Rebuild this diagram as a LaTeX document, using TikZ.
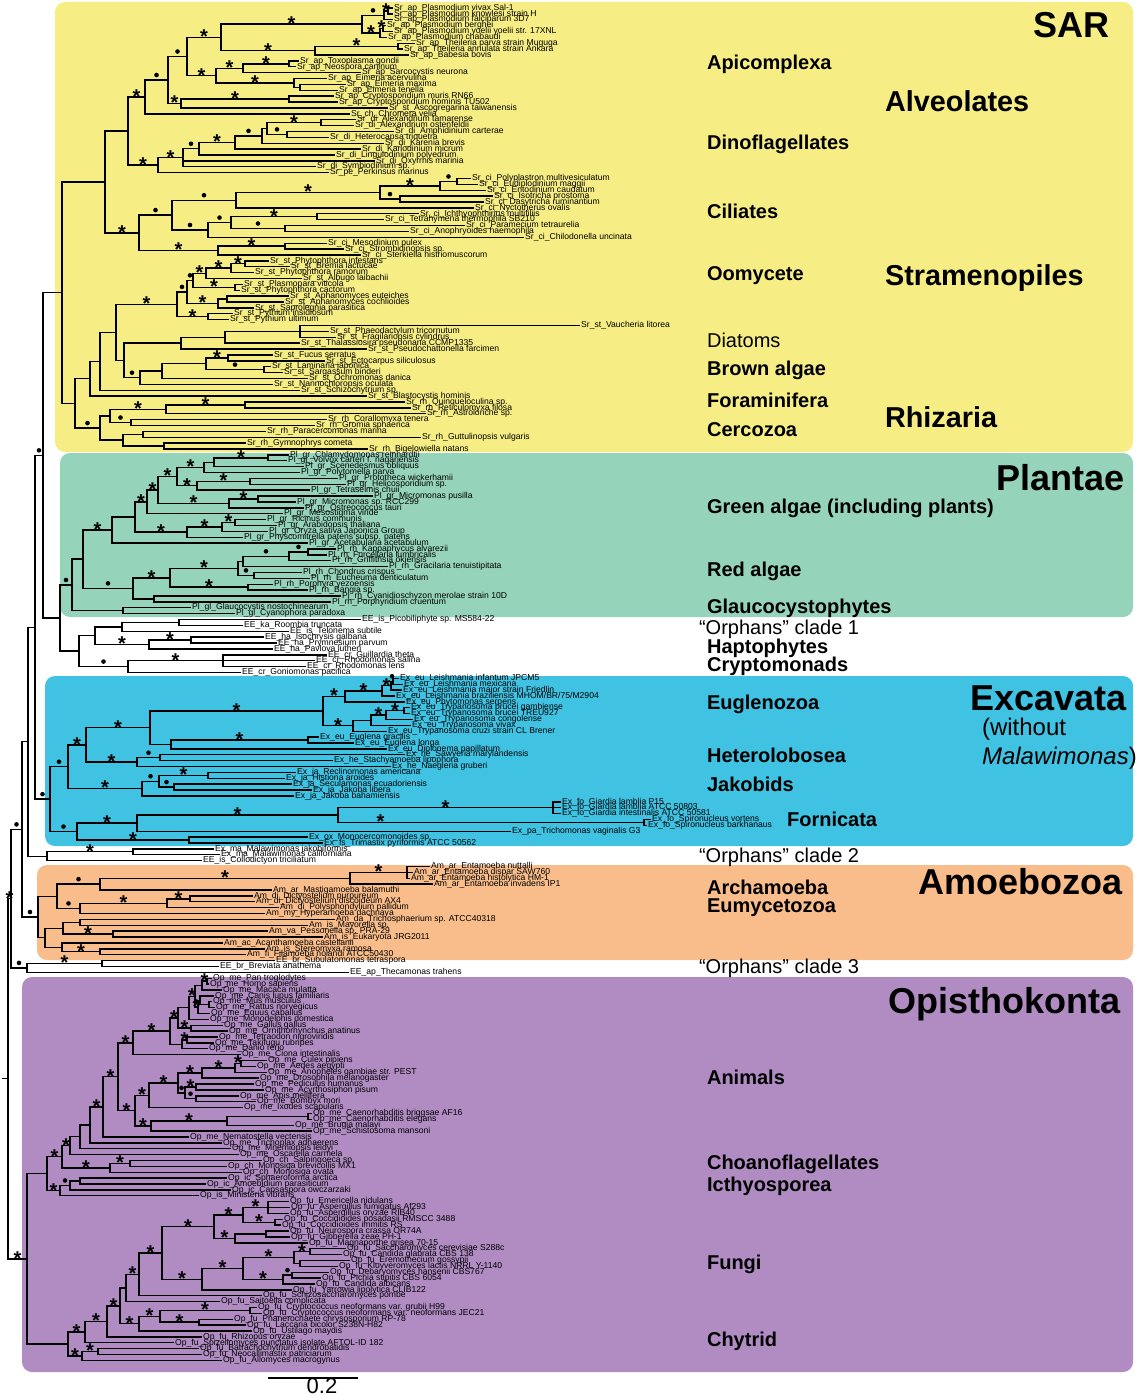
\documentclass[tikz,border=0pt]{standalone}
\usepackage{fontspec}
\setmainfont{Liberation Sans}
\usetikzlibrary{calc}
\definecolor{sarc}{HTML}{F6EE84}
\definecolor{plc}{HTML}{95D4BA}
\definecolor{exc}{HTML}{40C2E2}
\definecolor{amc}{HTML}{F9BD8B}
\definecolor{opc}{HTML}{B08CC3}
\newcommand\lf[3]{\node[labf] (L#2) at (#1,{2.12+5.88*#2}) {#3};}
\newcommand\nd[4]{\coordinate (tq) at ($(#3)!.5!(#4)$);\coordinate (#1) at (#2,0 |- tq);\draw[brl] (#1) |- (#3);\draw[brl] (#1) |- (#4);}
\newcommand\ndt[5]{\coordinate (tq) at ($(#3)!.5!(#5)$);\coordinate (#1) at (#2,0 |- tq);\draw[brl] (#1) |- (#3);\draw[brl] (#1) |- (#4);\draw[brl] (#1) |- (#5);}
\newcommand\sa[2]{\path (#1) |- node[pos=.75,stmk]{*} (#2);}
\newcommand\sd[2]{\path (#1) |- node[pos=.75,dtmk]{} (#2);}
\begin{document}
\begin{tikzpicture}[x=0.5pt,y=-0.5pt,
 brl/.style={line width=0.7pt},
 labf/.style={anchor=west,inner sep=0.4pt,font=\fontsize{4.3}{4.3}\selectfont},
 stmk/.style={anchor=south,inner sep=0pt,yshift=-3.4pt,font=\fontsize{10}{10}\selectfont\bfseries},
 dtmk/.style={circle,fill=black,inner sep=0pt,minimum size=2.3pt,yshift=2.5pt},
 clB/.style={anchor=west,font=\fontsize{10}{12}\selectfont\bfseries},
 clN/.style={anchor=west,font=\fontsize{10}{12}\selectfont},
 clW/.style={anchor=west,font=\fontsize{12}{14}\selectfont},
 clM/.style={anchor=west,font=\fontsize{14.4}{16}\selectfont\bfseries},
 clBig/.style={anchor=east,font=\fontsize{18}{20}\selectfont\bfseries}]
\useasboundingbox (0,0) rectangle (1138,1396);
\fill[white] (0,0) rectangle (1138,1396);
% clade boxes
\fill[sarc,rounded corners=5pt] (55,2) rectangle (1133,452);
\fill[plc,rounded corners=5pt] (60,453) rectangle (1133,617);
\fill[exc,rounded corners=5pt] (45,676) rectangle (1133,846);
\fill[amc,rounded corners=5pt] (37,865) rectangle (1133,960);
\fill[opc,rounded corners=5pt] (22,977) rectangle (1133,1372);
% leaves
\lf{393}{1}{Sr\_ap\_Plasmodium vivax Sal-1}
\lf{393}{2}{Sr\_ap\_Plasmodium knowlesi strain H}
\lf{393}{3}{Sr\_ap\_Plasmodium falciparum 3D7}
\lf{386}{4}{Sr\_ap\_Plasmodium berghei}
\lf{393}{5}{Sr\_ap\_Plasmodium yoelii yoelii str. 17XNL}
\lf{387}{6}{Sr\_ap\_Plasmodium chabaudi}
\lf{415}{7}{Sr\_ap\_Theileria parva strain Muguga}
\lf{403}{8}{Sr\_ap\_Theileria annulata strain Ankara}
\lf{409}{9}{Sr\_ap\_Babesia bovis}
\lf{299}{10}{Sr\_ap\_Toxoplasma gondii}
\lf{296}{11}{Sr\_ap\_Neospora caninum}
\lf{361}{12}{Sr\_ap\_Sarcocystis neurona}
\lf{327}{13}{Sr\_ap\_Eimeria acervulina}
\lf{346}{14}{Sr\_ap\_Eimeria maxima}
\lf{338}{15}{Sr\_ap\_Eimeria tenella}
\lf{334}{16}{Sr\_ap\_Cryptosporidium muris RN66}
\lf{338}{17}{Sr\_ap\_Cryptosporidium hominis TU502}
\lf{388}{18}{Sr\_st\_Ascogregarina taiwanensis}
\lf{350}{19}{Sr\_ch\_Chromera velia}
\lf{356}{20}{Sr\_di\_Alexandrium tamarense}
\lf{354}{21}{Sr\_di\_Alexandrium ostenfeldii}
\lf{394}{22}{Sr\_di\_Amphidinium carterae}
\lf{329}{23}{Sr\_di\_Heterocapsa triquetra}
\lf{384}{24}{Sr\_di\_Karenia brevis}
\lf{361}{25}{Sr\_di\_Karlodinium micrum}
\lf{335}{26}{Sr\_di\_Lingulodinium polyedrum}
\lf{375}{27}{Sr\_di\_Oxyrrhis marinia}
\lf{316}{28}{Sr\_di\_Symbiodinium sp.}
\lf{329}{29}{Sr\_pe\_Perkinsus marinus}
\lf{471}{30}{Sr\_ci\_Polyplastron multivesiculatum}
\lf{478}{31}{Sr\_ci\_Eudiplodinium maggii}
\lf{486}{32}{Sr\_ci\_Entodinium caudatum}
\lf{493}{33}{Sr\_ci\_Isotricha prostoma}
\lf{484}{34}{Sr\_ci\_Dasytricha ruminantium}
\lf{474}{35}{Sr\_ci\_Nyctotherus ovalis}
\lf{419}{36}{Sr\_ci\_Ichthyophthirius multifiliis}
\lf{384}{37}{Sr\_ci\_Tetrahymena thermophila SB210}
\lf{465}{38}{Sr\_ci\_Paramecium tetraurelia}
\lf{409}{39}{Sr\_ci\_Anophryoides haemophila}
\lf{524}{40}{Sr\_ci\_Chilodonella uncinata}
\lf{327}{41}{Sr\_ci\_Mesodinium pulex}
\lf{344}{42}{Sr\_ci\_Strombidinopsis sp.}
\lf{361}{43}{Sr\_ci\_Sterkiella histriomuscorum}
\lf{269}{44}{Sr\_st\_Phytophthora infestans}
\lf{290}{45}{Sr\_st\_Bremia lactucae}
\lf{254}{46}{Sr\_st\_Phytophthora ramorum}
\lf{302}{47}{Sr\_st\_Albugo laibachii}
\lf{243}{48}{Sr\_st\_Plasmopara viticola}
\lf{240}{49}{Sr\_st\_Phytophthora cactorum}
\lf{289}{50}{Sr\_st\_Aphanomyces euteiches}
\lf{284}{51}{Sr\_st\_Aphanomyces cochlioides}
\lf{254}{52}{Sr\_st\_Saprolegnia parasitica}
\lf{233}{53}{Sr\_st\_Pythium insidiosum}
\lf{229}{54}{Sr\_st\_Pythium ultimum}
\lf{580}{55}{Sr\_st\_Vaucheria litorea}
\lf{329}{56}{Sr\_st\_Phaeodactylum tricornutum}
\lf{336}{57}{Sr\_st\_Fragilariopsis cylindrus}
\lf{300}{58}{Sr\_st\_Thalassiosira pseudonana CCMP1335}
\lf{367}{59}{Sr\_st\_Pseudochattonella farcimen}
\lf{273}{60}{Sr\_st\_Fucus serratus}
\lf{325}{61}{Sr\_st\_Ectocarpus siliculosus}
\lf{271}{62}{Sr\_st\_Laminaria japonica}
\lf{283}{63}{Sr\_st\_Sargassum binderi}
\lf{308}{64}{Sr\_st\_Ochromonas danica}
\lf{273}{65}{Sr\_st\_Nannochloropsis oculata}
\lf{300}{66}{Sr\_st\_Schizochytrium sp.}
\lf{367}{67}{Sr\_st\_Blastocystis hominis}
\lf{405}{68}{Sr\_rh\_Quinqueloculina sp.}
\lf{411}{69}{Sr\_rh\_Reticulomyxa filosa}
\lf{426}{70}{Sr\_rh\_Astrolonche sp.}
\lf{327}{71}{Sr\_rh\_Corallomyxa tenera}
\lf{315}{72}{Sr\_rh\_Gromia sphaerica}
\lf{266}{73}{Sr\_rh\_Paracercomonas marina}
\lf{421}{74}{Sr\_rh\_Guttulinopsis vulgaris}
\lf{246}{75}{Sr\_rh\_Gymnophrys cometa}
\lf{368}{76}{Sr\_rh\_Bigelowiella natans}
\lf{289}{77}{Pl\_gr\_Chlamydomonas reinhardtii}
\lf{287}{78}{Pl\_gr\_Volvox carteri f. nagariensis}
\lf{304}{79}{Pl\_gr\_Scenedesmus obliquus}
\lf{300}{80}{Pl\_gr\_Polytomella parva}
\lf{338}{81}{Pl\_gr\_Prototheca wickerhamii}
\lf{346}{82}{Pl\_gr\_Helicosporidium sp.}
\lf{310}{83}{Pl\_gr\_Tetraselmis chuii}
\lf{373}{84}{Pl\_gr\_Micromonas pusilla}
\lf{296}{85}{Pl\_gr\_Micromonas sp. RCC299}
\lf{304}{86}{Pl\_gr\_Ostreococcus tauri}
\lf{283}{87}{Pl\_gr\_Mesostigma viride}
\lf{266}{88}{Pl\_gr\_Ricinus communis}
\lf{277}{89}{Pl\_gr\_Arabidopsis thaliana}
\lf{268}{90}{Pl\_gr\_Oryza sativa Japonica Group}
\lf{243}{91}{Pl\_gr\_Physcomitrella patens subsp. patens}
\lf{308}{92}{Pl\_gr\_Acetabularia acetabulum}
\lf{336}{93}{Pl\_rh\_Kappaphycus alvarezii}
\lf{327}{94}{Pl\_rh\_Furcellaria lumbricalis}
\lf{331}{95}{Pl\_rh\_Griffithsia okiensis}
\lf{388}{96}{Pl\_rh\_Gracilaria tenuistipitata}
\lf{302}{97}{Pl\_rh\_Chondrus crispus}
\lf{310}{98}{Pl\_rh\_Eucheuma denticulatum}
\lf{273}{99}{Pl\_rh\_Porphyra yezoensis}
\lf{308}{100}{Pl\_rh\_Bangia sp.}
\lf{341}{101}{Pl\_rh\_Cyanidioschyzon merolae strain 10D}
\lf{331}{102}{Pl\_rh\_Porphyridium cruentum}
\lf{191}{103}{Pl\_gl\_Glaucocystis nostochinearum}
\lf{235}{104}{Pl\_gl\_Cyanophora paradoxa}
\lf{361}{105}{EE\_is\_Picobiliphyte sp. MS584-22}
\lf{243}{106}{EE\_ka\_Roombia truncata}
\lf{289}{107}{EE\_is\_Telonema subtile}
\lf{264}{108}{EE\_ha\_Isochrysis galbana}
\lf{277}{109}{EE\_ha\_Prymnesium parvum}
\lf{273}{110}{EE\_ha\_Pavlova lutheri}
\lf{327}{111}{EE\_cr\_Guillardia theta}
\lf{315}{112}{EE\_cr\_Rhodomonas salina}
\lf{306}{113}{EE\_cr\_Rhodomonas lens}
\lf{241}{114}{EE\_cr\_Goniomonas pacifica}
\lf{399}{115}{Ex\_eu\_Leishmania infantum JPCM5}
\lf{403}{116}{Ex\_eu\_Leishmania mexicana}
\lf{402}{117}{Ex\_eu\_Leishmania major strain Friedlin}
\lf{395}{118}{Ex\_eu\_Leishmania braziliensis MHOM/BR/75/M2904}
\lf{405}{119}{Ex\_eu\_Phytomonas serpens}
\lf{410}{120}{Ex\_eu\_Trypanosoma brucei gambiense}
\lf{410}{121}{Ex\_eu\_Trypanosoma brucei TREU927}
\lf{413}{122}{Ex\_eu\_Trypanosoma congolense}
\lf{411}{123}{Ex\_eu\_Trypanosoma vivax}
\lf{387}{124}{Ex\_eu\_Trypanosoma cruzi strain CL Brener}
\lf{319}{125}{Ex\_eu\_Euglena gracilis}
\lf{354}{126}{Ex\_eu\_Euglena longa}
\lf{387}{127}{Ex\_eu\_Diplonema papillatum}
\lf{405}{128}{Ex\_he\_Sawyeria marylandensis}
\lf{333}{129}{Ex\_he\_Stachyamoeba lipophora}
\lf{391}{130}{Ex\_he\_Naegleria gruberi}
\lf{296}{131}{Ex\_ja\_Reclinomonas americana}
\lf{285}{132}{Ex\_ja\_Histiona aroides}
\lf{292}{133}{Ex\_ja\_Seculamonas ecuadoriensis}
\lf{312}{134}{Ex\_ja\_Jakoba libera}
\lf{294}{135}{Ex\_ja\_Jakoba bahamiensis}
\lf{561}{136}{Ex\_fo\_Giardia lamblia P15}
\lf{561}{137}{Ex\_fo\_Giardia lamblia ATCC 50803}
\lf{561}{138}{Ex\_fo\_Giardia intestinalis ATCC 50581}
\lf{651}{139}{Ex\_fo\_Spironucleus vortens}
\lf{647}{140}{Ex\_fo\_Spironucleus barkhanaus}
\lf{511}{141}{Ex\_pa\_Trichomonas vaginalis G3}
\lf{308}{142}{Ex\_ox\_Monocercomonoides sp.}
\lf{323}{143}{Ex\_fs\_Trimastix pyriformis ATCC 50562}
\lf{214}{144}{Ex\_ma\_Malawimonas jakobiformis}
\lf{220}{145}{Ex\_ma\_Malawimonas californiana}
\lf{202}{146}{EE\_is\_Collodictyon triciliatum}
\lf{430}{147}{Am\_ar\_Entamoeba nuttalli}
\lf{413}{148}{Am\_ar\_Entamoeba dispar SAW760}
\lf{410}{149}{Am\_ar\_Entamoeba histolytica HM-1}
\lf{433}{150}{Am\_ar\_Entamoeba invadens IP1}
\lf{272}{151}{Am\_ar\_Mastigamoeba balamuthi}
\lf{253}{152}{Am\_di\_Dictyostelium purpureum}
\lf{255}{153}{Am\_di\_Dictyostelium discoideum AX4}
\lf{279}{154}{Am\_di\_Polysphondylium pallidum}
\lf{265}{155}{Am\_my\_Hyperamoeba dachnaya}
\lf{335}{156}{Am\_da\_Trichosphaerium sp. ATCC40318}
\lf{308}{157}{Am\_is\_Mayorella sp.}
\lf{268}{158}{Am\_va\_Pessonella sp. PRA-29}
\lf{323}{159}{Am\_is\_Eukaryota JRG2011}
\lf{223}{160}{Am\_ac\_Acanthamoeba castellanii}
\lf{265}{161}{Am\_is\_Stereomyxa ramosa}
\lf{246}{162}{Am\_fi\_Filamoeba nolandi ATCC50430}
\lf{275}{163}{EE\_br\_Subulatomonas tetraspora}
\lf{219}{164}{EE\_br\_Breviata anathema}
\lf{349}{165}{EE\_ap\_Thecamonas trahens}
\lf{212}{166}{Op\_me\_Pan troglodytes}
\lf{209}{167}{Op\_me\_Homo sapiens}
\lf{222}{168}{Op\_me\_Macaca mulatta}
\lf{214}{169}{Op\_me\_Canis lupus familiaris}
\lf{212}{170}{Op\_me\_Mus musculus}
\lf{215}{171}{Op\_me\_Rattus norvegicus}
\lf{210}{172}{Op\_me\_Equus caballus}
\lf{209}{173}{Op\_me\_Monodelphis domestica}
\lf{223}{174}{Op\_me\_Gallus gallus}
\lf{228}{175}{Op\_me\_Ornithorhynchus anatinus}
\lf{218}{176}{Op\_me\_Tetraodon nigroviridis}
\lf{214}{177}{Op\_me\_Takifugu rubripes}
\lf{208}{178}{Op\_me\_Danio rerio}
\lf{241}{179}{Op\_me\_Ciona intestinalis}
\lf{267}{180}{Op\_me\_Culex pipiens}
\lf{256}{181}{Op\_me\_Aedes aegypti}
\lf{267}{182}{Op\_me\_Anopheles gambiae str. PEST}
\lf{259}{183}{Op\_me\_Drosophila melanogaster}
\lf{254}{184}{Op\_me\_Pediculus humanus}
\lf{264}{185}{Op\_me\_Acyrthosiphon pisum}
\lf{239}{186}{Op\_me\_Apis mellifera}
\lf{256}{187}{Op\_me\_Bombyx mori}
\lf{243}{188}{Op\_me\_Ixodes scapularis}
\lf{312}{189}{Op\_me\_Caenorhabditis briggsae AF16}
\lf{312}{190}{Op\_me\_Caenorhabditis elegans}
\lf{294}{191}{Op\_me\_Brugia malayi}
\lf{312}{192}{Op\_me\_Schistosoma mansoni}
\lf{189}{193}{Op\_me\_Nematostella vectensis}
\lf{222}{194}{Op\_me\_Trichoplax adhaerens}
\lf{231}{195}{Op\_me\_Mnemiopsis leidyi}
\lf{239}{196}{Op\_me\_Oscarella carmela}
\lf{262}{197}{Op\_ch\_Salpingoeca sp.}
\lf{227}{198}{Op\_ch\_Monosiga brevicollis MX1}
\lf{242}{199}{Op\_ch\_Monosiga ovata}
\lf{227}{200}{Op\_ic\_Sphaeroforma arctica}
\lf{206}{201}{Op\_ic\_Amoebidium parasiticum}
\lf{231}{202}{Op\_ic\_Capsaspora owczarzaki}
\lf{199}{203}{Op\_is\_Ministeria vibrans}
\lf{289}{204}{Op\_fu\_Emericella nidulans}
\lf{290}{205}{Op\_fu\_Aspergillus fumigatus Af293}
\lf{289}{206}{Op\_fu\_Aspergillus oryzae RIB40}
\lf{283}{207}{Op\_fu\_Coccidioides posadasii RMSCC 3488}
\lf{281}{208}{Op\_fu\_Coccidioides immitis RS}
\lf{289}{209}{Op\_fu\_Neurospora crassa OR74A}
\lf{290}{210}{Op\_fu\_Gibberella zeae PH-1}
\lf{308}{211}{Op\_fu\_Magnaporthe grisea 70-15}
\lf{346}{212}{Op\_fu\_Saccharomyces cerevisiae S288c}
\lf{342}{213}{Op\_fu\_Candida glabrata CBS 138}
\lf{350}{214}{Op\_fu\_Eremothecium gossypii}
\lf{338}{215}{Op\_fu\_Kluyveromyces lactis NRRL Y-1140}
\lf{329}{216}{Op\_fu\_Debaryomyces hansenii CBS767}
\lf{321}{217}{Op\_fu\_Pichia stipitis CBS 6054}
\lf{315}{218}{Op\_fu\_Candida albicans}
\lf{292}{219}{Op\_fu\_Yarrowia lipolytica CLIB122}
\lf{262}{220}{Op\_fu\_Schizosaccharomyces pombe}
\lf{220}{221}{Op\_fu\_Saitoella complicata}
\lf{257}{222}{Op\_fu\_Cryptococcus neoformans var. grubii H99}
\lf{262}{223}{Op\_fu\_Cryptococcus neoformans var. neoformans JEC21}
\lf{233}{224}{Op\_fu\_Phanerochaete chrysosporium RP-78}
\lf{246}{225}{Op\_fu\_Laccaria bicolor S238N-H82}
\lf{252}{226}{Op\_fu\_Ustilago maydis}
\lf{202}{227}{Op\_fu\_Rhizopus oryzae}
\lf{174}{228}{Op\_fu\_Spizellomyces punctatus isolate AFTOL-ID 182}
\lf{199}{229}{Op\_fu\_Batrachochytrium dendrobatidis}
\lf{202}{230}{Op\_fu\_Neocallimastix patriciarum}
\lf{222}{231}{Op\_fu\_Allomyces macrogynus}
% ---- SAR ----
\nd{pl1}{388}{L1}{L2}
\nd{pl2}{384}{pl1}{L3}
\nd{pl3}{383}{L4}{L5}
\nd{pl4}{380}{pl3}{L6}
\nd{pl5}{362}{pl2}{pl4}
\nd{th1}{398}{L7}{L8}
\nd{th2}{315}{th1}{L9}
\nd{ap1}{221}{pl5}{th2}
\nd{co1}{289}{L10}{L11}
\nd{co2}{243}{co1}{L12}
\nd{ei1}{300}{L14}{L15}
\nd{ei2}{294}{L13}{ei1}
\nd{co3}{216}{co2}{ei2}
\nd{ap2}{187}{ap1}{co3}
\nd{cr1}{289}{L16}{L17}
\nd{cr2}{181}{cr1}{L18}
\nd{ap3}{168}{ap2}{cr2}
\nd{ap4}{145}{ap3}{L19}
\nd{dA}{321}{L20}{L21}
\nd{dB}{287}{L22}{L23}
\nd{dC}{267}{dA}{dB}
\nd{dD}{262}{dC}{L24}
\nd{dE}{235}{dD}{L25}
\nd{dF}{199}{dE}{L26}
\ndt{dG}{183}{dF}{L27}{L28}
\nd{dH}{158}{dG}{L29}
\nd{alvA}{128}{ap4}{dH}
\nd{c1}{457}{L30}{L31}
\nd{c2}{440}{c1}{L32}
\nd{c4}{400}{L33}{L34}
\nd{c3}{380}{c2}{c4}
\nd{c5}{236}{c3}{L35}
\nd{c7}{317}{L36}{L37}
\nd{c8}{285}{L38}{L39}
\nd{c9}{231}{c7}{c8}
\nd{c10}{208}{c9}{L40}
\nd{c6}{172}{c5}{c10}
\nd{c13}{285}{L41}{L42}
\nd{c12}{218}{c13}{L43}
\nd{c11}{139}{c6}{c12}
\nd{alv}{105}{alvA}{c11}
\nd{o1}{245}{L44}{L45}
\nd{o2}{231}{o1}{L46}
\nd{o3}{206}{o2}{L47}
\nd{o4}{235}{L48}{L49}
\nd{o5}{193}{o3}{o4}
\nd{o7}{227}{L50}{L51}
\nd{o8}{218}{o7}{L52}
\nd{o6}{187}{o5}{o8}
\nd{o9}{208}{L53}{L54}
\nd{o10}{177}{o6}{o9}
\ndt{s1}{300}{L55}{L56}{L57}
\nd{s2}{225}{s1}{L58}
\nd{s3}{181}{s2}{L59}
\nd{b1}{228}{L60}{L61}
\nd{b2}{264}{L62}{L63}
\nd{b3}{206}{b1}{b2}
\nd{b4}{162}{b3}{L64}
\nd{b5}{140}{b4}{L65}
\nd{sb}{124}{s3}{b5}
\nd{so}{116}{o10}{sb}
\nd{st1}{100}{so}{L66}
\nd{st2}{90}{st1}{L67}
\nd{r1}{245}{L68}{L69}
\nd{r2}{166}{r1}{L70}
\nd{r3}{131}{L71}{L72}
\nd{r4}{143}{L73}{L74}
\nd{r5}{164}{L75}{L76}
\nd{r6}{123}{r4}{r5}
\nd{rh1}{110}{r2}{r3}
\nd{rh2}{100}{rh1}{r6}
\nd{SR}{75}{st2}{rh2}
\nd{SAR}{62}{alv}{SR}
% ---- Plantae ----
\nd{p1}{268}{L77}{L78}
\nd{p2}{214}{p1}{L79}
\nd{p3}{204}{p2}{L80}
\nd{p4}{250}{L81}{L82}
\nd{p5}{197}{p4}{L83}
\nd{p6}{177}{p3}{p5}
\nd{p7}{258}{L84}{L85}
\nd{p8}{229}{p7}{L86}
\nd{p9}{158}{p6}{p8}
\nd{p10}{147}{p9}{L87}
\nd{p11}{235}{L88}{L89}
\nd{p12}{222}{p11}{L90}
\nd{p13}{187}{p12}{L91}
\nd{p14}{135}{p10}{p13}
\nd{p15}{112}{p14}{L92}
\nd{rd1}{308}{L93}{L94}
\nd{rd2}{289}{rd1}{L95}
\nd{rd3}{243}{rd2}{L96}
\nd{rd4}{254}{L97}{L98}
\nd{rd5}{238}{rd3}{rd4}
\nd{rd6}{248}{L99}{L100}
\nd{rd7}{170}{rd5}{rd6}
\nd{rd8}{154}{L101}{L102}
\nd{rd9}{133}{rd7}{rd8}
\nd{gl}{123}{L103}{L104}
\nd{pla}{83}{p15}{rd9}
\nd{Pla}{72}{pla}{gl}
% ---- Orphans 1 ----
\nd{or1}{179}{L105}{L106}
\nd{or2}{122}{or1}{L107}
\nd{h1}{191}{L108}{L109}
\nd{h2}{149}{h1}{L110}
\nd{hx}{95}{or2}{h2}
\ndt{cra}{223}{L111}{L112}{L113}
\nd{crc}{128}{cra}{L114}
\nd{O1}{79}{hx}{crc}
% ---- Excavata ----
\nd{e1}{393}{L115}{L116}
\nd{e2}{391}{e1}{L117}
\nd{e3}{382}{e2}{L118}
\nd{e4}{345}{e3}{L119}
\nd{e5}{404}{L120}{L121}
\nd{e6}{386}{e5}{L122}
\nd{e7}{371}{e6}{L123}
\nd{e8}{353}{e7}{L124}
\nd{e9}{323}{e4}{e8}
\nd{eg}{308}{L125}{L126}
\nd{e10}{171}{eg}{L127}
\nd{e11}{150}{e9}{e10}
\nd{he1}{160}{L128}{L129}
\nd{he2}{137}{he1}{L130}
\nd{j1}{208}{L131}{L132}
\nd{j2}{174}{L133}{L134}
\nd{j3}{159}{j1}{j2}
\nd{j4}{142}{j3}{L135}
\ndt{g1}{553}{L136}{L137}{L138}
\nd{sp}{644}{L139}{L140}
\coordinate (spb) at (423,0 |- sp);
\draw[brl] (spb) -- (sp);
\nd{dip}{338}{g1}{spb}
\nd{f2}{137}{dip}{L141}
\nd{ox}{189}{L142}{L143}
\nd{f3}{77}{f2}{ox}
\nd{ex1}{86}{e11}{he2}
\nd{ex2}{68}{ex1}{j4}
\nd{Exc}{50}{ex2}{f3}
% ---- Orphans 2 ----
\nd{ma}{133}{L144}{L145}
\nd{O2}{47}{ma}{L146}
% ---- Amoebozoa ----
\ndt{am1}{407}{L147}{L148}{L149}
\nd{am2}{350}{am1}{L150}
\nd{am3}{100}{am2}{L151}
\nd{di1}{190}{L152}{L153}
\nd{di2}{167}{di1}{L154}
\nd{di3}{80}{di2}{L155}
\nd{am4}{57}{am3}{di3}
\nd{acE}{80}{L156}{L157}
\nd{acF}{113}{L158}{L159}
\nd{acC}{63}{acE}{acF}
\nd{acG}{100}{L161}{L162}
\nd{acD}{62}{L160}{acG}
\nd{acB}{45}{acC}{acD}
\nd{Amo}{38}{am4}{acB}
% ---- Orphans 3 ----
\nd{brv}{102}{L163}{L164}
\nd{O3}{27}{brv}{L165}
% ---- Opisthokonta ----
\nd{op1}{207}{L166}{L167}
\nd{op2}{202}{op1}{L168}
\nd{op3}{209}{L170}{L171}
\nd{op4}{200}{L169}{op3}
\nd{op5}{198}{op4}{L172}
\nd{op6}{195}{op2}{op5}
\nd{op7}{189}{op6}{L173}
\nd{op8}{191}{L174}{L175}
\nd{op9}{178}{op7}{op8}
\nd{op10}{187}{L176}{L177}
\nd{op11}{182}{op10}{L178}
\nd{op12}{170}{op9}{op11}
\nd{deut}{133}{op12}{L179}
\nd{in1}{241}{L180}{L181}
\nd{in2}{235}{in1}{L182}
\nd{in3}{202}{in2}{L183}
\nd{in4}{196}{L184}{L185}
\nd{in5}{196}{L186}{L187}
\nd{in6}{185}{in4}{in5}
\nd{in7}{178}{in3}{in6}
\nd{in8}{149}{in7}{L188}
\nd{ne1}{308}{L189}{L190}
\nd{ne2}{227}{ne1}{L191}
\nd{ne3}{151}{ne2}{L192}
\nd{pr1}{135}{in8}{ne3}
\nd{bil}{118}{deut}{pr1}
\nd{met1}{103}{bil}{L193}
\nd{met2}{90}{met1}{L194}
\nd{met3}{80}{met2}{L195}
\nd{met4}{70}{met3}{L196}
\nd{ch1}{130}{L197}{L198}
\nd{ch2}{110}{ch1}{L199}
\nd{ho1}{62}{met4}{ch2}
\nd{ic1}{80}{L200}{L201}
\nd{ic2}{70}{ic1}{L202}
\nd{ho2}{60}{ic2}{L203}
\nd{hol}{47}{ho1}{ho2}
\ndt{fu1}{268}{L204}{L205}{L206}
\nd{fu2}{275}{L207}{L208}
\nd{fu3}{243}{fu1}{fu2}
\nd{fu4}{266}{L209}{L210}
\nd{fu5}{235}{fu4}{L211}
\nd{fu6}{214}{fu3}{fu5}
\nd{sa1}{310}{L212}{L213}
\nd{sa2}{300}{L214}{L215}
\nd{sa3}{294}{sa1}{sa2}
\nd{sa4}{292}{L216}{L217}
\nd{sa5}{283}{sa4}{L218}
\nd{sa6}{243}{sa3}{sa5}
\nd{sa7}{202}{sa6}{L219}
\nd{pez}{162}{fu6}{sa7}
\nd{asc}{139}{pez}{L220}
\nd{asc2}{126}{asc}{L221}
\nd{ba1}{250}{L222}{L223}
\nd{ba2}{199}{L224}{L225}
\nd{ba3}{160}{ba1}{ba2}
\nd{ba4}{139}{ba3}{L226}
\nd{dik}{120}{asc2}{ba4}
\nd{fb1}{107}{dik}{L227}
\nd{fb2}{85}{fb1}{L228}
\nd{cha}{98}{L229}{L230}
\nd{chb}{82}{cha}{L231}
\nd{fun}{68}{fb2}{chb}
\nd{Opi}{27}{hol}{fun}
% ---- backbone ----
\nd{P60}{60}{Pla}{O1}
\nd{N43}{43}{SAR}{P60}
\nd{N35}{35}{N43}{Exc}
\nd{N28}{28}{N35}{O2}
\nd{N22}{22}{N28}{Amo}
\nd{NA}{11}{N22}{O3}
\nd{root}{8}{NA}{Opi}
\coordinate (rs) at (2,0 |- root);
\draw[brl] (rs) -- (root);
% ---- support marks ----
\sd{pl5}{pl2}\sa{pl2}{pl1}\sa{pl4}{pl3}\sa{pl5}{pl4}
\sa{th2}{th1}\sa{ap1}{pl5}\sa{ap1}{th2}\sa{co2}{co1}\sa{co3}{co2}\sa{co3}{ei2}
\sa{ap2}{ap1}\sa{ap2}{co3}\sa{cr2}{cr1}\sd{ap3}{ap2}\sa{ap3}{cr2}\sd{ap4}{ap3}\sa{alvA}{ap4}
\sa{dC}{dA}\sd{dC}{dB}\sd{dE}{dD}\sa{dF}{dE}\sd{dG}{dF}\sa{dH}{dG}\sa{alvA}{dH}
\sd{c2}{c1}\sa{c3}{c2}\sd{c3}{c4}\sa{c5}{c3}\sa{c9}{c7}\sd{c9}{c8}\sd{c10}{c9}
\sd{c6}{c5}\sd{c6}{c10}\sd{c11}{c6}\sa{c12}{c13}\sa{c11}{c12}\sa{alv}{c11}
\sa{o2}{o1}\sa{o3}{o2}\sa{o5}{o3}\sa{o5}{o4}\sd{o6}{o5}\sa{o6}{o8}\sd{o10}{o6}\sa{o10}{o9}\sa{so}{o10}
\sa{b3}{b1}\sd{b3}{b2}\sd{sb}{b5}\sa{r2}{r1}\sa{rh1}{r2}\sd{rh1}{r3}\sd{SR}{rh2}
\sa{p2}{p1}\sa{p6}{p3}\sa{p5}{p4}\sa{p6}{p5}\sa{p8}{p7}\sa{p9}{p6}\sa{p9}{p8}\sa{p10}{p9}
\sa{p12}{p11}\sa{p13}{p12}\sa{p14}{p10}\sa{p14}{p13}\sd{rd2}{rd1}\sd{rd3}{rd2}\sd{rd5}{rd4}
\sa{rd7}{rd5}\sa{rd7}{rd6}\sa{rd9}{rd7}\sa{pla}{p15}\sd{pla}{rd9}\sd{P60}{Pla}
\sa{h2}{h1}\sa{crc}{cra}\sa{hx}{h2}\sd{O1}{crc}
\sd{e2}{e1}\sa{e3}{e2}\sa{e4}{e3}\sa{e6}{e5}\sa{e7}{e6}\sa{e9}{e4}\sa{e9}{e8}\sa{e10}{eg}\sa{e11}{e9}
\sd{he2}{he1}\sa{j3}{j1}\sd{j3}{j2}\sd{j4}{j3}\sa{dip}{g1}\sa{dip}{spb}\sa{f2}{dip}
\sa{f3}{f2}\sa{f3}{ox}\sa{ex1}{e11}\sa{ex1}{he2}\sa{ex2}{ex1}\sa{ex2}{j4}\sd{Exc}{ex2}\sd{Exc}{f3}
\sa{O2}{ma}\sd{N35}{N43}\sd{N35}{Exc}
\sa{am2}{am1}\sa{am3}{am2}\sa{di2}{di1}\sd{am4}{am3}\sd{am4}{di3}\sa{di3}{di2}\sd{N22}{Amo}
\sa{acC}{acF}\sa{acD}{acG}\sa{O3}{brv}\sd{NA}{O3}\sd{NA}{N22}\sa{root}{NA}\sa{root}{Opi}
\sa{op2}{op1}\sa{op6}{op5}\sa{op7}{op6}\sa{op9}{op8}\sa{op12}{op9}\sa{op11}{op10}\sa{deut}{op12}
\sa{in2}{in1}\sa{in3}{in2}\sa{in6}{in4}\sd{in6}{in5}\sa{in7}{in3}\sd{in7}{in6}\sa{in8}{in7}
\sa{ne3}{ne2}\sa{pr1}{in8}\sa{pr1}{ne3}\sa{bil}{deut}\sa{bil}{pr1}\sa{met1}{bil}\sa{met2}{met1}
\sa{ho1}{met4}\sa{ho1}{ch2}\sa{ch2}{ch1}\sd{ho2}{ic2}\sa{hol}{ho1}\sa{hol}{ho2}
\sa{fu3}{fu1}\sa{fu3}{fu2}\sa{fu6}{fu3}\sa{fu6}{fu5}\sa{sa3}{sa1}\sd{sa5}{sa4}\sa{sa6}{sa3}\sa{sa6}{sa5}
\sa{sa7}{sa6}\sa{pez}{fu6}\sa{pez}{sa7}\sa{asc}{pez}\sa{asc2}{asc}\sa{ba3}{ba1}\sa{ba3}{ba2}\sa{ba4}{ba3}\sa{dik}{ba4}
\sa{fb1}{dik}\sa{fb2}{fb1}\sa{fun}{fb2}\sa{fun}{chb}\sa{chb}{cha}
% ---- clade labels ----
\node[clBig] (tSAR) at (1117,25) {SAR};
\node[clB] (tApi) at (700,64) {Apicomplexa};
\node[clM] (tAlv) at (878,101) {Alveolates};
\node[clB] (tDin) at (700,144) {Dinoflagellates};
\node[clB] (tCil) at (700,211) {Ciliates};
\node[clB] (tOom) at (700,276) {Oomycete};
\node[clM] (tStr) at (878,278) {Stramenopiles};
\node[clN] (tDia) at (700,340) {Diatoms};
\node[clB] (tBro) at (700,370) {Brown algae};
\node[clB] (tFor) at (700,400) {Foraminifera};
\node[clM] (tRhi) at (878,417) {Rhizaria};
\node[clB] (tCer) at (700,430) {Cercozoa};
\node[clBig] (tPla) at (1132,478) {Plantae};
\node[clB] (tGre) at (700,508) {Green algae (including plants)};
\node[clB] (tRed) at (700,571) {Red algae};
\node[clB] (tGla) at (700,608) {Glaucocystophytes};
\node[clN] (tOr1) at (692,629) {“Orphans” clade 1};
\node[clB] (tHap) at (700,648) {Haptophytes};
\node[clB] (tCry) at (700,666) {Cryptomonads};
\node[clBig] (tExc) at (1134,698) {Excavata};
\node[clW] (tWo) at (975,729) {(without};
\node[clW] (tMal) at (975,758) {\itshape Malawimonas\upshape)};
\node[clB] (tEug) at (700,704) {Euglenozoa};
\node[clB] (tHet) at (700,755) {Heterolobosea};
\node[clB] (tJak) at (700,784) {Jakobids};
\node[clB] (tFor2) at (780,819) {Fornicata};
\node[clN] (tOr2) at (692,857) {“Orphans” clade 2};
\node[clBig] (tAmo) at (1130,882) {Amoebozoa};
\node[clB] (tArc) at (700,887) {Archamoeba};
\node[clB] (tEum) at (700,908) {Eumycetozoa};
\node[clN] (tOr3) at (692,968) {“Orphans” clade 3};
\node[clBig] (tOpi) at (1128,1004) {Opisthokonta};
\node[clB] (tAni) at (700,1077) {Animals};
\node[clB] (tCho) at (700,1164) {Choanoflagellates};
\node[clB] (tIct) at (700,1186) {Icthyosporea};
\node[clB] (tFun) at (700,1264) {Fungi};
\node[clB] (tChy) at (700,1341) {Chytrid};
% scale bar
\coordinate (sbl) at (268,1378);
\coordinate (sbr) at (358,1378);
\draw[line width=0.7pt] (sbl) -- (sbr);
\node[font=\fontsize{11}{12}\selectfont,inner sep=0pt] (sbt) at (322,1386) {0.2};
\end{tikzpicture}
\end{document}
